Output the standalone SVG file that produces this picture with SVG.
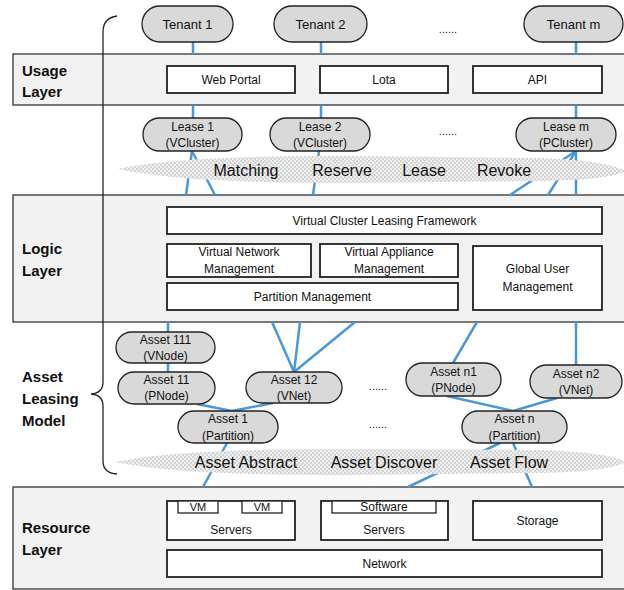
<svg xmlns="http://www.w3.org/2000/svg" width="624" height="590" viewBox="0 0 624 590">
<style>
.band{fill:#f2f2f2;stroke:#333;stroke-width:1.3}
.box{fill:#fff;stroke:#222;stroke-width:1.8}
.node{fill:#d9d9d9;stroke:#222;stroke-width:1.3}
.cloud{fill:url(#chk);stroke:none}
.conn{stroke:#4a98d8;stroke-width:2.5;fill:none}
text{font-family:"Liberation Sans",Arial,sans-serif;fill:#111}
.t{font-size:12px;text-anchor:middle}
.n{font-size:13px;text-anchor:middle}
.c{font-size:16px;text-anchor:middle}
.L{font-size:15px;font-weight:bold}
.dots{font-size:11px;text-anchor:middle}
</style>
<defs>
<pattern id="chk" width="4" height="4" patternUnits="userSpaceOnUse">
<rect width="4" height="4" fill="#f0f0f0"/>
<rect width="2" height="2" fill="#d4d4d4"/>
<rect x="2" y="2" width="2" height="2" fill="#d4d4d4"/>
</pattern>
</defs>

<g id="bands">
<rect class="band" x="13" y="54" width="620" height="51"/>
<rect class="band" x="13" y="195" width="620" height="127"/>
<rect class="band" x="13" y="487" width="620" height="102"/>
</g>

<g id="connectors">
<line class="conn" x1="193" y1="42" x2="193" y2="54"/>
<line class="conn" x1="193" y1="105" x2="193" y2="118"/>
<line class="conn" x1="321" y1="42" x2="321" y2="54"/>
<line class="conn" x1="321" y1="105" x2="321" y2="118"/>
<line class="conn" x1="576" y1="42" x2="576" y2="54"/>
<line class="conn" x1="576" y1="105" x2="576" y2="118"/>
<line class="conn" x1="192" y1="151" x2="186" y2="195"/>
<line class="conn" x1="192" y1="151" x2="215" y2="195"/>
<line class="conn" x1="319" y1="151" x2="313" y2="195"/>
<line class="conn" x1="576" y1="151" x2="576" y2="195"/>
<line class="conn" x1="576" y1="151" x2="510" y2="195"/>
<line class="conn" x1="576" y1="151" x2="548" y2="195"/>
<line class="conn" x1="168" y1="322" x2="168" y2="332"/>
<line class="conn" x1="168" y1="363" x2="168" y2="372"/>
<line class="conn" x1="272" y1="322" x2="294" y2="372"/>
<line class="conn" x1="300" y1="322" x2="294" y2="372"/>
<line class="conn" x1="355" y1="322" x2="294" y2="372"/>
<line class="conn" x1="197" y1="404" x2="232" y2="411"/>
<line class="conn" x1="273" y1="403" x2="232" y2="411"/>
<line class="conn" x1="477" y1="322" x2="453" y2="363"/>
<line class="conn" x1="576" y1="322" x2="576" y2="365"/>
<line class="conn" x1="447" y1="396" x2="513" y2="411"/>
<line class="conn" x1="557" y1="398" x2="513" y2="411"/>
<line class="conn" x1="227" y1="443" x2="203" y2="487"/>
<line class="conn" x1="500" y1="443" x2="408" y2="487"/>
<line class="conn" x1="513" y1="443" x2="532" y2="487"/>
</g>

<g id="clouds">
<path class="cloud" d="M117,169 C170,158 250,156 350,156 L540,158 C590,160 615,165 626,171 C615,177 590,180 540,181 L350,183 C250,183 170,180 117,169 Z"/>
<path class="cloud" d="M115,462 C170,451 250,449 350,449 L540,450 C590,452 615,456 626,462 C615,468 590,472 540,473 L350,475 C250,475 170,473 115,462 Z"/>
</g>

<g id="tenant1"><rect class="node" x="142" y="6" width="91" height="36" rx="18"/><text class="n" x="187.5" y="29">Tenant 1</text></g>
<g id="tenant2"><rect class="node" x="274" y="6" width="93" height="36" rx="18"/><text class="n" x="320.5" y="29">Tenant 2</text></g>
<g id="tenantm"><rect class="node" x="524" y="6" width="99" height="36" rx="18"/><text class="n" x="573.5" y="29">Tenant m</text></g>
<text class="dots" x="448" y="33">......</text>

<g id="webportal"><rect class="box" x="167" y="66" width="128" height="27"/><text class="t" x="231" y="84">Web Portal</text></g>
<g id="lota"><rect class="box" x="320" y="66" width="128" height="27"/><text class="t" x="384" y="84">Lota</text></g>
<g id="api"><rect class="box" x="473" y="66" width="129" height="27"/><text class="t" x="537.5" y="84">API</text></g>

<g id="lease1"><rect class="node" x="143" y="118" width="99" height="33" rx="16.5"/><text class="t" x="192.5" y="131">Lease 1</text><text class="t" x="192.5" y="147">(VCluster)</text></g>
<g id="lease2"><rect class="node" x="270" y="118" width="100" height="33" rx="16.5"/><text class="t" x="320" y="131">Lease 2</text><text class="t" x="320" y="147">(VCluster)</text></g>
<g id="leasem"><rect class="node" x="516" y="118" width="100" height="33" rx="16.5"/><text class="t" x="566" y="131">Lease m</text><text class="t" x="566" y="147">(PCluster)</text></g>
<text class="dots" x="448" y="135">......</text>

<text class="c" x="246" y="176">Matching</text>
<text class="c" x="342" y="176">Reserve</text>
<text class="c" x="424" y="176">Lease</text>
<text class="c" x="504" y="176">Revoke</text>

<g id="vclf"><rect class="box" x="167" y="207" width="435" height="27"/><text class="t" x="384.5" y="225">Virtual Cluster Leasing Framework</text></g>
<g id="vnm"><rect class="box" x="167" y="244" width="144" height="33"/><text class="t" x="239" y="256">Virtual Network</text><text class="t" x="239" y="273">Management</text></g>
<g id="vam"><rect class="box" x="320" y="244" width="138" height="33"/><text class="t" x="389" y="256">Virtual Appliance</text><text class="t" x="389" y="273">Management</text></g>
<g id="pm"><rect class="box" x="167" y="283" width="291" height="27"/><text class="t" x="312.5" y="301">Partition Management</text></g>
<g id="gum"><rect class="box" x="473" y="246" width="129" height="64"/><text class="t" x="537.5" y="273">Global User</text><text class="t" x="537.5" y="291">Management</text></g>

<g id="asset111"><rect class="node" x="116" y="332" width="99" height="31" rx="15.5"/><text class="t" x="165.5" y="344">Asset 111</text><text class="t" x="165.5" y="360">(VNode)</text></g>
<g id="asset11"><rect class="node" x="118" y="372" width="97" height="32" rx="16"/><text class="t" x="166.5" y="384">Asset 11</text><text class="t" x="166.5" y="400">(PNode)</text></g>
<g id="asset12"><rect class="node" x="246" y="372" width="96" height="31" rx="15.5"/><text class="t" x="294" y="384">Asset 12</text><text class="t" x="294" y="400">(VNet)</text></g>
<g id="asset1"><rect class="node" x="178" y="411" width="100" height="32" rx="16"/><text class="t" x="228" y="423">Asset 1</text><text class="t" x="228" y="440">(Partition)</text></g>
<g id="assetn1"><rect class="node" x="406" y="363" width="95" height="33" rx="16.5"/><text class="t" x="453.5" y="376">Asset n1</text><text class="t" x="453.5" y="392">(PNode)</text></g>
<g id="assetn2"><rect class="node" x="530" y="365" width="92" height="33" rx="16.5"/><text class="t" x="576" y="378">Asset n2</text><text class="t" x="576" y="394">(VNet)</text></g>
<g id="assetn"><rect class="node" x="462" y="411" width="105" height="32" rx="16"/><text class="t" x="514.5" y="423">Asset n</text><text class="t" x="514.5" y="440">(Partition)</text></g>
<text class="dots" x="378" y="390">......</text>
<text class="dots" x="378" y="428">......</text>

<text class="c" x="246" y="468">Asset Abstract</text>
<text class="c" x="384" y="468">Asset Discover</text>
<text class="c" x="509" y="468">Asset Flow</text>

<g id="servers1"><rect class="box" x="167" y="501" width="128" height="39"/><rect class="box" x="178" y="501" width="40" height="12" style="stroke-width:1.3"/><rect class="box" x="242" y="501" width="40" height="12" style="stroke-width:1.3"/><text class="t" x="198" y="511" style="font-size:11px">VM</text><text class="t" x="262" y="511" style="font-size:11px">VM</text><text class="t" x="231" y="534">Servers</text></g>
<g id="servers2"><rect class="box" x="321" y="501" width="127" height="39"/><rect class="box" x="332" y="501" width="104" height="12" style="stroke-width:1.3"/><text class="t" x="384" y="511">Software</text><text class="t" x="384" y="534">Servers</text></g>
<g id="storage"><rect class="box" x="473" y="501" width="129" height="39"/><text class="t" x="537.5" y="525">Storage</text></g>
<g id="network"><rect class="box" x="167" y="550" width="435" height="27"/><text class="t" x="384.5" y="568">Network</text></g>

<g id="labels">
<text class="L" x="22" y="76">Usage</text>
<text class="L" x="22" y="97">Layer</text>
<text class="L" x="22" y="254">Logic</text>
<text class="L" x="22" y="276">Layer</text>
<text class="L" x="22" y="382">Asset</text>
<text class="L" x="22" y="404">Leasing</text>
<text class="L" x="22" y="426">Model</text>
<text class="L" x="22" y="533">Resource</text>
<text class="L" x="22" y="555">Layer</text>
</g>

<path id="brace" d="M117,16 Q103,18 103,32 L103,382 Q103,393 91,394 Q103,395 103,406 L103,461 Q103,473 117,474" fill="none" stroke="#222" stroke-width="1.3"/>
</svg>
